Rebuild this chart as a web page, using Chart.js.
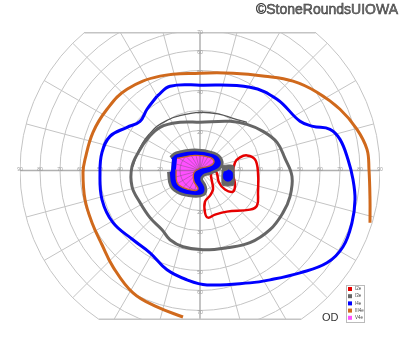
<!DOCTYPE html>
<html>
<head>
<meta charset="utf-8">
<script src="https://cdn.jsdelivr.net/npm/chart.js@4/dist/chart.umd.min.js"></script>
<style>
  body { margin: 0; background: #fff; }
  #field { display: block; }
</style>
</head>
<body>
<canvas id="field" width="400" height="352"></canvas>
<script>
// isopters, [x, y] in degrees of visual field (x: temporal/nasal, y: up/down)
const isopterLabels = ['I2e', 'I3e', 'I4e', 'III4e', 'V4e'];
const isopterColors = ['#e60000', '#666666', '#0000ff', '#d0691c', '#ff50ff'];

const ringDegrees = [10, 20, 30, 40, 50, 60, 70, 80, 90];
const hTickLabels = [10, 20, 30, 40, 50, 60, 70, 80, 90];
const vTickLabels = [10, 20, 30, 40, 50, 60, 70];

const iii4e = [[-8.5,-73],[-21.5,-68],[-33.5,-61],[-43.5,-48],[-49,-37],[-54,-26],[-57.5,-14.5],
  [-58.5,-1],[-57.5,5.5],[-53.5,19],[-46.5,30.5],[-36.5,40.5],[-20,47],[0,48.5],[16.5,48.5],
  [32.5,47],[46.5,44.5],[58.5,39],[70,30.5],[78.5,20.5],[83.5,10.5],[84.5,0.5],[85,-14.5],[85,-26]];

const i4e = [[-21.5,37],[-15,42],[0,42.5],[25,41.5],[38.5,35.5],[50,24.5],[56.5,22],[65,20.5],
  [70,15.5],[74,5.5],[76.5,-4.5],[77.5,-14.5],[76,-26],[71.5,-38],[63.5,-46],[50,-51],[35,-54.5],
  [25,-56],[3.5,-57],[-6.5,-54.5],[-16.5,-49.5],[-25,-41],[-33.5,-34.5],[-43.5,-26],[-49,-14.5],
  [-50,-1],[-49,9],[-45,17],[-36.5,21.5],[-30,24.5],[-26.5,30.5],[-21.5,37]];

const i3e = [[0,24],[15,24.5],[23.5,23],[31.5,19.5],[38.5,14],[42.5,6],[46,-3],[45,-13],[41.5,-21],
  [35,-29.5],[25,-36],[13.5,-38.5],[1.5,-39.5],[-8.5,-38],[-15,-34.5],[-19,-29.5],[-25,-23.5],
  [-30,-16],[-34,-8],[-34,2],[-30,10.5],[-26.5,15.5],[-20,21.5],[-10,24],[0,24]];

const i3eUpper = [[-33.5,2],[-31.5,8],[-28.5,14],[-25,18.5],[-21.5,22],[-16.5,25],[-11.5,27],
  [0,29],[10,28],[16.5,26],[23.5,24]];

const i2e = [[7.5,0],[8.5,-1.5],[9.5,-6],[12.5,-9.5],[16.5,-10.5],[17.5,-7],[16.5,-1.5],[17.5,4],
  [20,6.5],[23.5,7.5],[27.5,5.5],[29,-1],[29,-11],[28.5,-17.5],[25,-19.5],[13.5,-20.5],[7.5,-22],
  [4,-23.5],[2.5,-21],[2.5,-15.5],[5,-12.5],[6.5,-9.5],[6,-5.5],[5.5,-2.5],[6,-0.5],[7.5,0]];

// central scotoma
const scotomaI4e = [[-14,5.5],[-11.5,7.5],[-2.5,9],[6.5,7.5],[9.5,5],[9,2],[5,0],[1,-1.5],[-0.5,-4.5],
  [1.5,-8.5],[1,-11],[-3.5,-11.5],[-10,-10],[-13.5,-7],[-14.5,-0.5]];
const scotomaV4e = [[-11.5,6],[-2.5,7.5],[5,6.5],[7,4.5],[5.5,2.5],[0,1],[-3,-1],[-3,-5.5],[-1,-9],
  [-2.5,-10],[-8.5,-8.5],[-11.5,-6],[-12,0.5]];

// blind spot
const blindI3e = [[11,2.5],[16.5,2.5],[17,0.5],[17,-6.5],[16.5,-7.5],[11.5,-7.5],[11,-6.5],[11,0.5]];
const blindI4e = [[14,0.3],[15.8,-0.5],[16.3,-2.5],[15.8,-4.5],[14,-5.3],[12.2,-4.5],[11.7,-2.5],[12.2,-0.5]];

const pts = arr => arr.map(p => ({ x: p[0], y: p[1] }));
const V4E_INDEX = 9;

function outline(data, color, width, order) {
    return { data: pts(data), showLine: true, borderColor: color, borderWidth: width,
        pointRadius: 0, tension: 0.4, fill: false, order: order };
}
function patch(data, border, bg, width, order) {
    return { data: pts(data), showLine: true, borderColor: border, backgroundColor: bg,
        borderWidth: width, pointRadius: 0, tension: 0.4, fill: 'shape', order: order };
}

function strokeGrid(ctx, cx, cy, px, light, dark) {
    const R = px(90);
    ctx.strokeStyle = light;
    ctx.lineWidth = 1;
    ringDegrees.forEach(r => {
        ctx.beginPath();
        ctx.arc(cx, cy, px(r), 0, Math.PI * 2);
        ctx.stroke();
    });
    for (let deg = 0; deg < 360; deg += 15) {
        const t = deg * Math.PI / 180;
        ctx.strokeStyle = deg % 90 === 0 ? dark : light;
        ctx.lineWidth = deg % 90 === 0 ? 1.5 : 1;
        ctx.beginPath();
        ctx.moveTo(cx, cy);
        ctx.lineTo(cx + R * Math.cos(t), cy - R * Math.sin(t));
        ctx.stroke();
    }
}

// polar grid, drawn under the isopters
const polarGrid = {
    id: 'polarGrid',
    beforeDatasetsDraw(chart) {
        const { ctx, chartArea: a, scales: { x, y } } = chart;
        const cx = x.getPixelForValue(0), cy = y.getPixelForValue(0);
        const px = d => x.getPixelForValue(d) - cx;
        const R = px(90);
        ctx.save();
        ctx.beginPath();
        ctx.rect(a.left, a.top, a.right - a.left, a.bottom - a.top);
        ctx.clip();
        strokeGrid(ctx, cx, cy, px, '#c4c4c4', '#b0b0b0');
        // cut edges top and bottom
        ctx.strokeStyle = '#c4c4c4';
        ctx.lineWidth = 2;
        [a.top + 0.5, a.bottom - 0.5].forEach(yy => {
            const dy = Math.abs(yy - cy);
            const dx = Math.sqrt(Math.max(R * R - dy * dy, 0));
            ctx.beginPath();
            ctx.moveTo(cx - dx, yy);
            ctx.lineTo(cx + dx, yy);
            ctx.stroke();
        });
        ctx.restore();

        ctx.save();
        ctx.font = '5px "Liberation Sans", Arial, sans-serif';
        ctx.fillStyle = '#9a9a9a';
        ctx.textAlign = 'center';
        ctx.textBaseline = 'middle';
        hTickLabels.forEach(v => {
            ctx.fillText(String(v), cx - px(v), cy - 1);
            ctx.fillText(String(v), cx + px(v), cy - 1);
        });
        vTickLabels.forEach(v => {
            ctx.fillText(String(v), cx, cy - px(v) + 2);
            ctx.fillText(String(v), cx, cy + px(v) + 2);
        });
        ctx.restore();
    },
    // grid shows through the V4e patch
    afterDatasetsDraw(chart) {
        const { ctx, scales: { x, y } } = chart;
        const meta = chart.getDatasetMeta(V4E_INDEX);
        const cx = x.getPixelForValue(0), cy = y.getPixelForValue(0);
        const px = d => x.getPixelForValue(d) - cx;
        ctx.save();
        ctx.beginPath();
        if (meta.dataset && typeof meta.dataset.path === 'function') {
            meta.dataset.path(ctx);
        } else {
            meta.data.forEach((p, i) => i ? ctx.lineTo(p.x, p.y) : ctx.moveTo(p.x, p.y));
        }
        ctx.closePath();
        ctx.clip();
        strokeGrid(ctx, cx, cy, px, 'rgba(120,80,120,0.45)', 'rgba(120,80,120,0.5)');
        ctx.restore();
    }
};

// small legend box, eye label and credit
const decorations = {
    id: 'decorations',
    afterDraw(chart) {
        const ctx = chart.ctx;
        ctx.save();
        ctx.fillStyle = '#fff';
        ctx.fillRect(346, 285, 18, 37);
        ctx.strokeStyle = '#bbbbbb';
        ctx.lineWidth = 1;
        ctx.strokeRect(346.5, 285.5, 18, 37);
        ctx.font = '4.5px "Liberation Sans", Arial, sans-serif';
        ctx.textBaseline = 'middle';
        isopterLabels.forEach((lbl, i) => {
            const yy = 289 + i * 7.2;
            ctx.fillStyle = isopterColors[i];
            ctx.fillRect(348, yy - 2, 4, 4);
            ctx.fillStyle = '#444';
            ctx.fillText(lbl, 355, yy);
        });

        ctx.fillStyle = '#333';
        ctx.font = '11px "Liberation Sans", Arial, sans-serif';
        ctx.textBaseline = 'alphabetic';
        ctx.fillText('OD', 322, 321);

        ctx.font = '14px "Liberation Sans", Arial, sans-serif';
        ctx.textAlign = 'right';
        ctx.fillStyle = '#777';
        ctx.fillText('©StoneRoundsUIOWA', 398, 14);
        ctx.strokeStyle = '#333';
        ctx.lineWidth = 0.5;
        ctx.strokeText('©StoneRoundsUIOWA', 398, 14);
        ctx.restore();
    }
};

new Chart(document.getElementById('field'), {
    type: 'scatter',
    data: {
        datasets: [
            outline(iii4e, isopterColors[3], 3, 9),
            outline(i4e, isopterColors[2], 3, 8),
            outline(i3e, isopterColors[1], 3, 7),
            outline(i3eUpper, '#555555', 1.3, 7),
            outline(i2e, isopterColors[0], 2.5, 6),
            patch(blindI3e, isopterColors[1], isopterColors[1], 1, 5),
            patch(blindI4e, isopterColors[2], isopterColors[2], 1, 4),
            patch(scotomaI4e, isopterColors[1], isopterColors[1], 8, 3),
            patch(scotomaI4e, isopterColors[2], isopterColors[2], 2.5, 2),
            patch(scotomaV4e, isopterColors[3], isopterColors[4], 1.3, 1)
        ]
    },
    options: {
        responsive: false,
        animation: false,
        layout: { padding: { left: 20, right: 20, top: 32, bottom: 32 } },
        scales: {
            x: { type: 'linear', min: -90, max: 90, display: false },
            y: { type: 'linear', min: -74.5, max: 69, display: false }
        },
        plugins: {
            legend: { display: false },
            tooltip: { enabled: false }
        }
    },
    plugins: [polarGrid, decorations]
});
</script>
</body>
</html>
